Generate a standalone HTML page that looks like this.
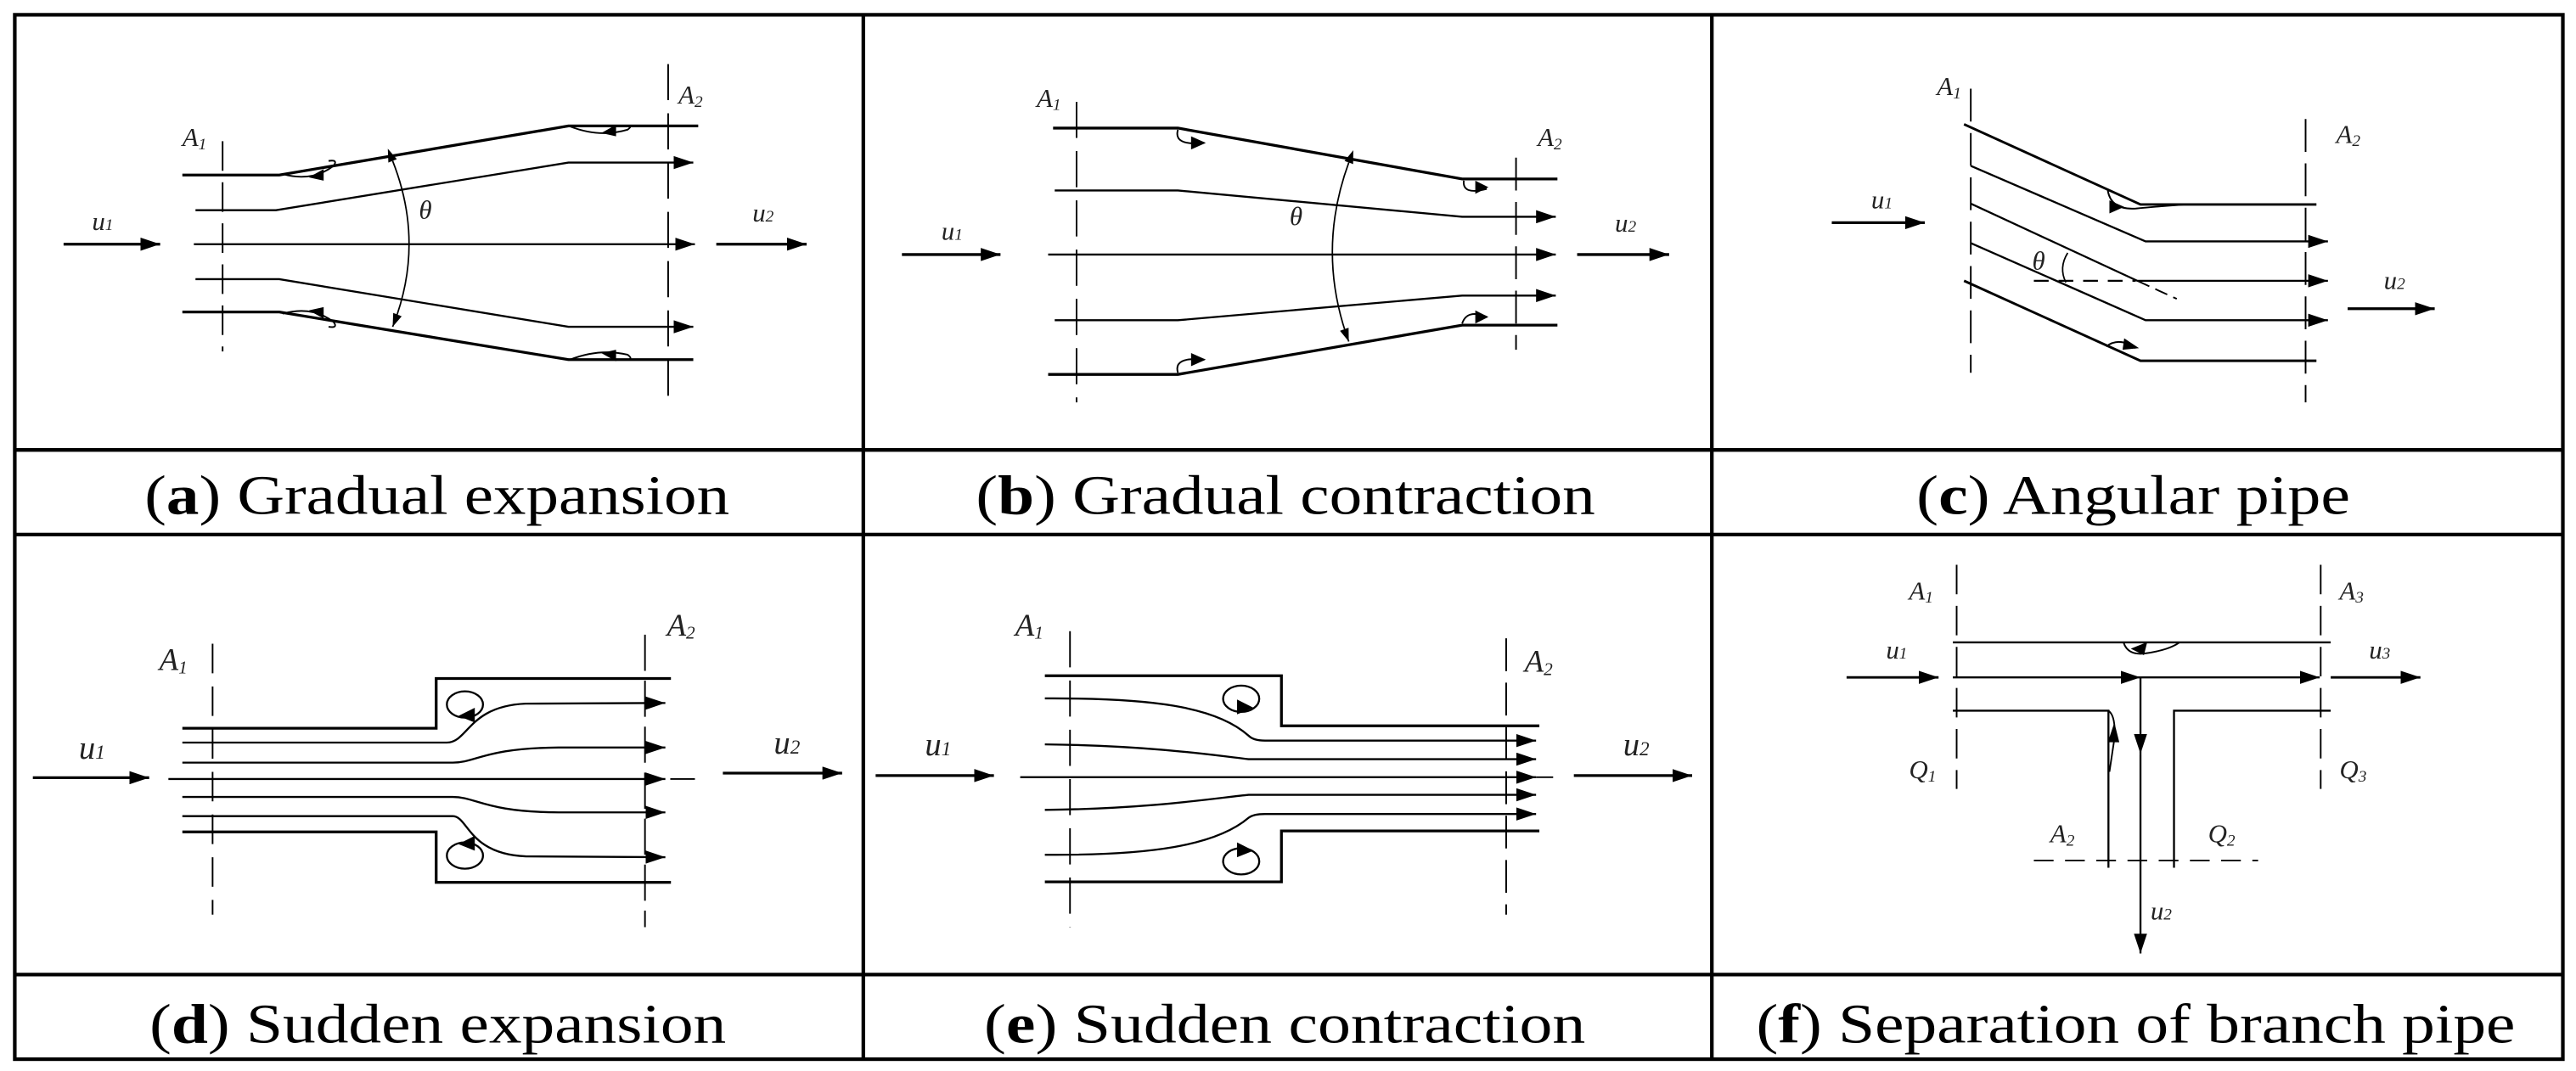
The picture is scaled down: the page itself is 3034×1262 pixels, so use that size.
<!DOCTYPE html>
<html><head><meta charset="utf-8"><style>
html,body{margin:0;padding:0;background:#fff;}
svg{display:block;}
text{font-family:"Liberation Serif",serif;fill:#000;}
.it{font-style:italic;font-size:16px;fill:#222;}
.cap{font-size:34px;}
</style></head><body>
<svg width="3034" height="1262" viewBox="0 0 1568 652.2" preserveAspectRatio="none" xmlns="http://www.w3.org/2000/svg">
<defs>
<marker id="ar" viewBox="0 0 12 8" refX="12" refY="4" markerWidth="12" markerHeight="8" markerUnits="userSpaceOnUse" orient="auto"><path d="M0,0 L12,4 L0,8 z" fill="#000"/></marker>
<marker id="as" viewBox="0 0 10 7" refX="10" refY="3.5" markerWidth="8" markerHeight="6" markerUnits="userSpaceOnUse" orient="auto"><path d="M0,0 L10,3.5 L0,7 z" fill="#000"/></marker>
<marker id="ass" viewBox="0 0 10 7" refX="0" refY="3.5" markerWidth="8" markerHeight="6" markerUnits="userSpaceOnUse" orient="auto-start-reverse"><path d="M0,0 L10,3.5 L0,7 z" fill="#000"/></marker>
</defs>
<rect x="0" y="0" width="1568" height="652.2" fill="#fff"/>
<!-- grid -->
<g stroke="#000" stroke-width="2.2" fill="none">
<rect x="9" y="9" width="1551" height="636"/>
<line x1="9" y1="274" x2="1560" y2="274"/>
<line x1="9" y1="325.5" x2="1560" y2="325.5"/>
<line x1="9" y1="593.5" x2="1560" y2="593.5"/>
<line x1="525.5" y1="9" x2="525.5" y2="645"/>
<line x1="1042" y1="9" x2="1042" y2="645"/>
</g>
<!-- captions -->
<g class="cap">
<text class="cap" x="88" y="313" textLength="356" lengthAdjust="spacingAndGlyphs">(<tspan font-weight="bold">a</tspan>) Gradual expansion</text>
<text class="cap" x="594" y="313" textLength="377" lengthAdjust="spacingAndGlyphs">(<tspan font-weight="bold">b</tspan>) Gradual contraction</text>
<text class="cap" x="1166.5" y="313" textLength="264" lengthAdjust="spacingAndGlyphs">(<tspan font-weight="bold">c</tspan>) Angular pipe</text>
<text class="cap" x="91" y="635" textLength="351" lengthAdjust="spacingAndGlyphs">(<tspan font-weight="bold">d</tspan>) Sudden expansion</text>
<text class="cap" x="599" y="635" textLength="366" lengthAdjust="spacingAndGlyphs">(<tspan font-weight="bold">e</tspan>) Sudden contraction</text>
<text class="cap" x="1069" y="635" textLength="462" lengthAdjust="spacingAndGlyphs">(<tspan font-weight="bold">f</tspan>) Separation of branch pipe</text>
</g>

<!-- (a) -->
<g stroke="#000" fill="none">
<line x1="135.5" y1="86" x2="135.5" y2="214" stroke-width="1" stroke-dasharray="18 7"/>
<line x1="406.7" y1="39" x2="406.7" y2="245" stroke-width="1" stroke-dasharray="22 8"/>
<polyline points="111,106.6 170,106.6 346,76.7 425,76.7" stroke-width="1.7"/>
<polyline points="119,128 168,128 346,99 422,99" stroke-width="1.2" marker-end="url(#ar)"/>
<line x1="118" y1="148.7" x2="423" y2="148.7" stroke-width="1.2" marker-end="url(#ar)"/>
<polyline points="119,170 170,170 346,199 422,199" stroke-width="1.2" marker-end="url(#ar)"/>
<polyline points="111,190 170,190 346,219 422,219" stroke-width="1.7"/>
<path d="M239,98 Q259,148.7 239,199" stroke-width="0.9" marker-start="url(#ass)" marker-end="url(#as)"/>
<line x1="38.7" y1="148.7" x2="97.5" y2="148.7" stroke-width="1.7" marker-end="url(#ar)"/>
<line x1="436" y1="148.7" x2="491" y2="148.7" stroke-width="1.7" marker-end="url(#ar)"/>
<path d="M172,106 Q190,111 203,101 Q206,97 200,98" stroke-width="1"/>
<path d="M172,191 Q190,186 203,196 Q206,200 200,199" stroke-width="1"/>
<path d="M347,77 Q365,84 382,79 Q386,76 381,77" stroke-width="1"/>
<path d="M347,219 Q365,212 382,216 Q386,219 381,219" stroke-width="1"/>
</g>
<g fill="#000"><path d="M188,108 l9,-5 l0,7z"/><path d="M188,189 l9,5 l0,-7z"/><path d="M366,81 l9,-5 l0,7z"/><path d="M366,215 l9,5 l0,-7z"/></g>
<text class="it" x="111" y="89">A<tspan font-size="10" dy="2">1</tspan></text>
<text class="it" x="413" y="63">A<tspan font-size="10" dy="2">2</tspan></text>
<text class="it" x="255" y="133">θ</text>
<text class="it" x="56" y="140">u<tspan font-size="10">1</tspan></text>
<text class="it" x="458" y="135">u<tspan font-size="10">2</tspan></text>

<!-- (b) -->
<g stroke="#000" fill="none">
<line x1="655.3" y1="62" x2="655.3" y2="245" stroke-width="1" stroke-dasharray="22 8"/>
<line x1="922.8" y1="96" x2="922.8" y2="213" stroke-width="1" stroke-dasharray="20 7"/>
<polyline points="641,78 717,78 890,109 948,109" stroke-width="1.7"/>
<polyline points="642,116 717,116 890,132 947,132" stroke-width="1.2" marker-end="url(#ar)"/>
<line x1="638" y1="155" x2="947" y2="155" stroke-width="1.2" marker-end="url(#ar)"/>
<polyline points="642,195 717,195 890,180 947,180" stroke-width="1.2" marker-end="url(#ar)"/>
<polyline points="638,228 717,228 890,198 948,198" stroke-width="1.7"/>
<path d="M821,99 Q801,153.5 821,208" stroke-width="0.9" marker-start="url(#ass)" marker-end="url(#as)"/>
<line x1="549" y1="155" x2="609" y2="155" stroke-width="1.7" marker-end="url(#ar)"/>
<line x1="960" y1="155" x2="1016" y2="155" stroke-width="1.7" marker-end="url(#ar)"/>
<path d="M717,79 Q714,89 733,87" stroke-width="1"/>
<path d="M717,227 Q714,217 733,219" stroke-width="1"/>
<path d="M891,110 Q890,119 905,115" stroke-width="1"/>
<path d="M890,197 Q893,188 905,193" stroke-width="1"/>
</g>
<g fill="#000"><path d="M734,87 l-9,-4 l0,8z"/><path d="M734,219 l-9,-4 l0,8z"/><path d="M906,114 l-8,-4 l0,8z"/><path d="M906,193 l-8,-4 l0,8z"/></g>
<text class="it" x="631" y="65">A<tspan font-size="10" dy="2">1</tspan></text>
<text class="it" x="936" y="89">A<tspan font-size="10" dy="2">2</tspan></text>
<text class="it" x="785" y="137">θ</text>
<text class="it" x="573" y="146">u<tspan font-size="10">1</tspan></text>
<text class="it" x="983" y="141">u<tspan font-size="10">2</tspan></text>

<!-- (c) -->
<g stroke="#000" fill="none">
<line x1="1199.6" y1="54" x2="1199.6" y2="227" stroke-width="1" stroke-dasharray="20 7"/>
<line x1="1403.4" y1="72.5" x2="1403.4" y2="245" stroke-width="1" stroke-dasharray="20 7"/>
<polyline points="1195.5,75.7 1302.9,124.5 1410,124.5" stroke-width="1.5"/>
<polyline points="1199.6,101 1306,147 1417,147" stroke-width="1.2" marker-end="url(#ar)"/>
<polyline points="1199.6,124 1301,171 1417,171" stroke-width="1.2" marker-end="url(#ar)"/>
<polyline points="1199.6,148 1306,195 1417,195" stroke-width="1.2" marker-end="url(#ar)"/>
<polyline points="1195.5,171 1302.9,219.7 1410,219.7" stroke-width="1.5"/>
<line x1="1238" y1="171" x2="1300" y2="171" stroke-width="1.2" stroke-dasharray="9 6"/>
<line x1="1301" y1="171" x2="1325" y2="182" stroke-width="1" stroke-dasharray="8 4"/>
<path d="M1258.6,154 Q1253,163 1257.5,172" stroke-width="0.9"/>
<path d="M1283,116 Q1285,128 1300,127 Q1310,126 1330,124.5" stroke-width="1"/>
<path d="M1282,211 Q1290,205 1300,212" stroke-width="1"/>
<line x1="1115" y1="135.6" x2="1171.6" y2="135.6" stroke-width="1.7" marker-end="url(#ar)"/>
<line x1="1429" y1="188" x2="1482" y2="188" stroke-width="1.7" marker-end="url(#ar)"/>
</g>
<g fill="#000"><path d="M1293,126 l-9,-4 l0,8z"/><path d="M1302,212 l-9,-6 l-1,7z"/></g>
<text class="it" x="1179" y="58">A<tspan font-size="10" dy="2">1</tspan></text>
<text class="it" x="1422" y="87">A<tspan font-size="10" dy="2">2</tspan></text>
<text class="it" x="1237" y="164">θ</text>
<text class="it" x="1139" y="127">u<tspan font-size="10">1</tspan></text>
<text class="it" x="1451" y="176">u<tspan font-size="10">2</tspan></text>

<!-- (d) -->
<g stroke="#000" fill="none">
<line x1="129.4" y1="392" x2="129.4" y2="557" stroke-width="1" stroke-dasharray="18 8"/>
<line x1="392.6" y1="386.5" x2="392.6" y2="564.6" stroke-width="1" stroke-dasharray="22 6"/>
<polyline points="111,443.5 265.5,443.5 265.5,413.2 408.4,413.2" stroke-width="1.7"/>
<polyline points="111,506.6 265.5,506.6 265.5,537.3 408.4,537.3" stroke-width="1.7"/>
<path d="M111,452.2 L272,452.2 C285,452.2 285,430 320,428.5 L405,428.1" stroke-width="1.2" marker-end="url(#ar)"/>
<path d="M111,464.4 L275.6,464.4 C290,464.4 295,455.5 340,455.2 L405,455.2" stroke-width="1.2" marker-end="url(#ar)"/>
<line x1="102.5" y1="474.4" x2="405" y2="474.4" stroke-width="1.2" marker-end="url(#ar)"/>
<line x1="408" y1="474.4" x2="423" y2="474.4" stroke-width="1"/>
<path d="M111,485.3 L275.6,485.3 C290,485.3 295,494.5 340,494.7 L405,494.7" stroke-width="1.2" marker-end="url(#ar)"/>
<path d="M111,497 L275.6,497 C285,497 285,520 320,521.5 L405,522" stroke-width="1.2" marker-end="url(#ar)"/>
<ellipse cx="283" cy="429" rx="11" ry="8" stroke-width="1.2"/>
<ellipse cx="283" cy="521" rx="11" ry="8" stroke-width="1.2"/>
<line x1="20" y1="473.6" x2="90.8" y2="473.6" stroke-width="1.7" marker-end="url(#ar)"/>
<line x1="440" y1="470.8" x2="512.6" y2="470.8" stroke-width="1.7" marker-end="url(#ar)"/>
</g>
<g fill="#000"><path d="M279,436 l10,-5 l0,9z"/><path d="M279,514 l10,-5 l0,9z"/></g>
<text class="it" x="97" y="408" font-size="19" style="font-size:19px">A<tspan font-size="11" dy="2">1</tspan></text>
<text class="it" x="406" y="387" style="font-size:19px">A<tspan font-size="11" dy="2">2</tspan></text>
<text class="it" x="48" y="462" style="font-size:20px">u<tspan font-size="12">1</tspan></text>
<text class="it" x="471" y="459" style="font-size:20px">u<tspan font-size="12">2</tspan></text>

<!-- (e) -->
<g stroke="#000" fill="none">
<line x1="651.3" y1="384.4" x2="651.3" y2="564.6" stroke-width="1" stroke-dasharray="22 8"/>
<line x1="916.8" y1="388.7" x2="916.8" y2="557" stroke-width="1" stroke-dasharray="20 7"/>
<polyline points="636,411.5 780,411.5 780,442 937,442" stroke-width="1.7"/>
<polyline points="636,537 780,537 780,506 937,506" stroke-width="1.7"/>
<path d="M636,425.3 C700,425 740,430 760,448 Q763,451 770,451 L935,451" stroke-width="1.2" marker-end="url(#ar)"/>
<path d="M636,453.3 C700,454 740,460 760,462.3 L935,462.3" stroke-width="1.2" marker-end="url(#ar)"/>
<line x1="621" y1="473.3" x2="935" y2="473.3" stroke-width="1.2" marker-end="url(#ar)"/>
<line x1="935" y1="473.3" x2="945.4" y2="473.3" stroke-width="1"/>
<path d="M636,493.2 C700,492.5 740,486 760,484 L935,484" stroke-width="1.2" marker-end="url(#ar)"/>
<path d="M636,520.5 C700,521 740,515 760,498 Q763,495.7 770,495.7 L935,495.7" stroke-width="1.2" marker-end="url(#ar)"/>
<ellipse cx="755.5" cy="425.5" rx="11" ry="8" stroke-width="1.2"/>
<ellipse cx="755.5" cy="524.5" rx="11" ry="8" stroke-width="1.2"/>
<line x1="533" y1="472.3" x2="605" y2="472.3" stroke-width="1.7" marker-end="url(#ar)"/>
<line x1="958" y1="472.3" x2="1030" y2="472.3" stroke-width="1.7" marker-end="url(#ar)"/>
</g>
<g fill="#000"><path d="M763,431 l-10,-5 l0,9z"/><path d="M763,518 l-10,-5 l0,9z"/></g>
<text class="it" x="618" y="387" style="font-size:19px">A<tspan font-size="11" dy="2">1</tspan></text>
<text class="it" x="928" y="409" style="font-size:19px">A<tspan font-size="11" dy="2">2</tspan></text>
<text class="it" x="563" y="460" style="font-size:20px">u<tspan font-size="12">1</tspan></text>
<text class="it" x="988" y="460" style="font-size:20px">u<tspan font-size="12">2</tspan></text>

<!-- (f) -->
<g stroke="#000" fill="none">
<line x1="1191" y1="343.9" x2="1191" y2="480.4" stroke-width="1" stroke-dasharray="18 7"/>
<line x1="1412.6" y1="343.9" x2="1412.6" y2="480.4" stroke-width="1" stroke-dasharray="18 7"/>
<line x1="1188.7" y1="391.2" x2="1418.7" y2="391.2" stroke-width="1.2"/>
<path d="M1292.6,391.2 Q1295,399 1305,398 Q1320,396 1326.7,391.2" stroke-width="1"/>
<line x1="1188.7" y1="412.5" x2="1302.9" y2="412.5" stroke-width="1.2" marker-end="url(#ar)"/>
<line x1="1302.9" y1="412.5" x2="1412" y2="412.5" stroke-width="1.2" marker-end="url(#ar)"/>
<line x1="1124" y1="412.5" x2="1180" y2="412.5" stroke-width="1.5" marker-end="url(#ar)"/>
<line x1="1418.7" y1="412.5" x2="1473.3" y2="412.5" stroke-width="1.5" marker-end="url(#ar)"/>
<polyline points="1188.7,432.8 1283.4,432.8 1283.4,528.4" stroke-width="1.2"/>
<polyline points="1418.7,432.8 1323.3,432.8 1323.3,528.4" stroke-width="1.2"/>
<path d="M1283.4,432.8 Q1288,436 1287,450 L1284,470" stroke-width="1"/>
<line x1="1302.9" y1="412.5" x2="1302.9" y2="459" stroke-width="1.2" marker-end="url(#ar)"/>
<line x1="1302.9" y1="459" x2="1302.9" y2="580.6" stroke-width="1.2" marker-end="url(#ar)"/>
<line x1="1238" y1="524" x2="1374.5" y2="524" stroke-width="1" stroke-dasharray="12 7"/>
</g>
<g fill="#000"><path d="M1297,395 l10,-4 l-2,8z"/><path d="M1287,440 l-4,12 l7,0z"/></g>
<text class="it" x="1162" y="365">A<tspan font-size="10" dy="2">1</tspan></text>
<text class="it" x="1424" y="365">A<tspan font-size="10" dy="2">3</tspan></text>
<text class="it" x="1148" y="401">u<tspan font-size="10">1</tspan></text>
<text class="it" x="1442" y="401">u<tspan font-size="10">3</tspan></text>
<text class="it" x="1162" y="474">Q<tspan font-size="10" dy="2">1</tspan></text>
<text class="it" x="1424" y="474">Q<tspan font-size="10" dy="2">3</tspan></text>
<text class="it" x="1248" y="513">A<tspan font-size="10" dy="2">2</tspan></text>
<text class="it" x="1344" y="513">Q<tspan font-size="10" dy="2">2</tspan></text>
<text class="it" x="1309" y="560">u<tspan font-size="10">2</tspan></text>
</svg>
</body></html>
